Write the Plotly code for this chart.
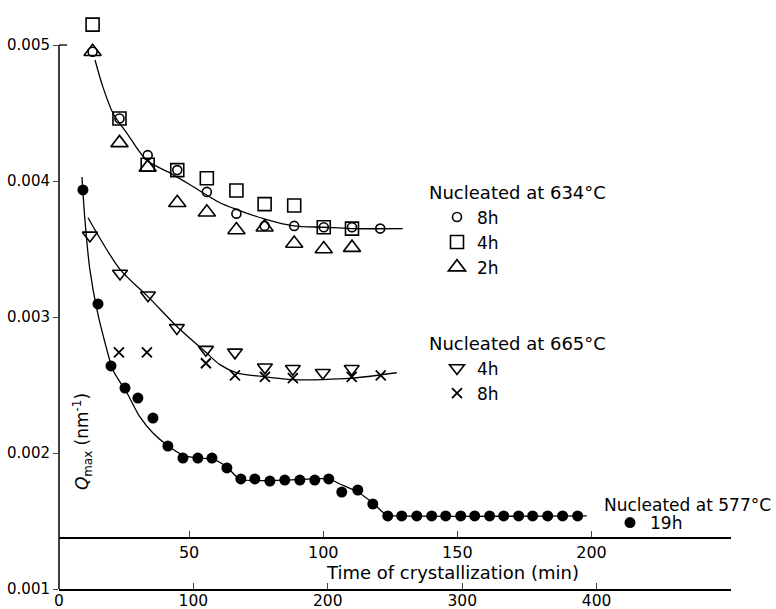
import plotly.graph_objects as go

# ---------------- data (time in min on the lower axis, Qmax in nm^-1) ----------------
t634 = [25, 45, 66, 88, 110, 132, 153, 175, 197, 218, 239]
q634_8h = [0.00495, 0.00446, 0.00419, 0.00408, 0.00392, 0.00376, 0.00367, 0.00367, 0.00366, 0.00366, 0.00365]
t634_4h = [25, 45, 66, 88, 110, 132, 153, 175, 197, 218]
q634_4h = [0.00515, 0.00446, 0.00412, 0.00408, 0.00402, 0.00393, 0.00383, 0.00382, 0.00366, 0.00365]
t634_2h = [25, 45, 66, 88, 110, 132, 153, 175, 197, 218]
q634_2h = [0.00495, 0.00428, 0.00410, 0.00384, 0.00377, 0.00364, 0.00366, 0.00354, 0.00350, 0.00351]

fit634_t = [26.8, 32.7, 40.1, 50.6, 65.4, 82.5, 99.6, 119.7, 132.3, 153.2, 174.7, 197, 217.8, 255.8]
fit634_q = [0.00489, 0.00469, 0.00450, 0.00435, 0.00415, 0.00406, 0.00396, 0.00384, 0.00379, 0.00372, 0.00367, 0.00366, 0.00365, 0.00365]

t665_4h = [23, 45.4, 66.2, 87.7, 109.3, 130.9, 153.2, 174, 196.3, 217.8]
q665_4h = [0.00360, 0.00332, 0.00316, 0.00292, 0.00276, 0.00274, 0.00263, 0.00262, 0.00259, 0.00262]
t665_8h = [44.6, 65.4, 109.3, 130.9, 153.2, 174, 217.8, 239.4]
q665_8h = [0.00274, 0.00274, 0.00266, 0.00257, 0.00256, 0.00255, 0.00256, 0.00257]

fit665_t = [21.6, 45.4, 66.2, 87.7, 109.3, 119.7, 132.3, 153.2, 174, 196.3, 217.8, 251.3]
fit665_q = [0.00373, 0.00335, 0.00315, 0.00293, 0.00274, 0.00265, 0.00259, 0.00256, 0.00254, 0.00254, 0.00255, 0.00259]

t577 = [17.8, 29, 38.7, 49.1, 58.7, 69.9, 81, 92.2, 103.3, 113.8, 124.9, 135.3, 145.7, 156.9,
        168, 179.2, 190.3, 200.7, 210.4, 222.3, 233.5, 244.6, 255, 266.2, 277.3, 287.7, 298.9,
        309.3, 320.4, 330.9, 342, 352.4, 363.6, 374.7, 385.9]
q577 = [0.003934, 0.003096, 0.00264, 0.002478, 0.002404, 0.002257, 0.002051, 0.001963, 0.001963,
        0.001963, 0.00189, 0.001809, 0.001809, 0.001794, 0.001801, 0.001801, 0.001801, 0.001809,
        0.001713, 0.001728, 0.001625, 0.001537, 0.001537, 0.001537, 0.001537, 0.001537, 0.001537,
        0.001537, 0.001537, 0.001537, 0.001537, 0.001537, 0.001537, 0.001537, 0.001537]

fit577_t = [17.1, 19.3, 23, 28.3, 35.7, 40.1, 50.6, 60.2, 69.9, 80.3, 92.2, 103.3, 113.8, 124.9,
            134.6, 168, 200.7, 208.9, 222.3, 233.5, 243.9, 253.5, 392.6]
fit577_q = [0.004029, 0.003713, 0.003346, 0.003051, 0.002757, 0.00261, 0.002441, 0.002265, 0.002147,
            0.002059, 0.001985, 0.001963, 0.001956, 0.001897, 0.001809, 0.001801, 0.001809, 0.001772,
            0.001713, 0.001632, 0.001544, 0.001537, 0.001537]

x_ticks = [0, 100, 200, 300, 400]
x2_ticks = [50, 100, 150, 200]
y_ticks = [0.001, 0.002, 0.003, 0.004, 0.005]
inner_axis_q = 0.001375

FONT = "DejaVu Sans"
YMIN, YMAX = 0.001, 0.00525

fig = go.Figure()

def fit(t, q):
    fig.add_trace(go.Scatter(x=t, y=q, mode="lines", showlegend=False, hoverinfo="skip",
                             line=dict(color="black", width=1.3, shape="spline", smoothing=0.8)))

fit(fit634_t, fit634_q)
fit(fit665_t, fit665_q)
fit(fit577_t, fit577_q)

def pts(t, q, name, symbol, size, legend, lw=1.6, color="black"):
    fig.add_trace(go.Scatter(x=t, y=q, mode="markers", name=name, legend=legend,
                             marker=dict(symbol=symbol, size=size, color=color,
                                         line=dict(color="black", width=lw))))

pts(t634, q634_8h, "8h", "circle-open", 9, "legend")
pts(t634_4h, q634_4h, "4h", "square-open", 13, "legend")
pts(t634_2h, q634_2h, "2h", "triangle-up-open", 15, "legend")
pts(t665_4h, q665_4h, "4h", "triangle-down-open", 13, "legend2")
pts(t665_8h, q665_8h, "8h", "x-thin", 10, "legend2", lw=1.8)
pts(t577, q577, "19h", "circle", 11, "legend3", lw=0)

# plot area: x 59..731 px, y 11..589 px
def py(pix):
    return (589 - pix) / 578.0

def px(pix):
    return (pix - 59) / 672.0

leg_common = dict(font=dict(family=FONT, size=17, color="black"), bgcolor="rgba(0,0,0,0)",
                  xanchor="left", yanchor="top", indentation=10, itemsizing="trace")
title_font = dict(family=FONT, size=18, color="black")

fig.update_layout(
    width=776, height=609,
    margin=dict(l=59, r=45, t=11, b=20, autoexpand=False),
    paper_bgcolor="white", plot_bgcolor="white",
    font=dict(family=FONT, color="black"),
    legend=dict(leg_common, x=px(427), y=py(176),
                title=dict(text="Nucleated at 634°C", font=title_font)),
    legend2=dict(leg_common, x=px(427), y=py(327),
                 title=dict(text="Nucleated at 665°C", font=title_font)),
    legend3=dict(leg_common, x=px(600), y=py(505)),
    xaxis=dict(range=[0, 500], tickvals=x_ticks, ticks="inside", ticklen=6, tickwidth=1.3,
               showline=True, linewidth=1.5, linecolor="black", showgrid=False, zeroline=False,
               tickfont=dict(family=FONT, size=15.5), ticklabelstandoff=-3, automargin=False),
    xaxis2=dict(range=[1.5, 252], overlaying="x", anchor="free", side="bottom",
                position=(inner_axis_q - YMIN) / (YMAX - YMIN),
                tickvals=x2_ticks, ticks="inside", ticklen=6, tickwidth=1.3,
                showline=True, linewidth=1.5, linecolor="black", showgrid=False, zeroline=False,
                tickfont=dict(family=FONT, size=16), automargin=False),
    yaxis=dict(range=[YMIN, YMAX], tickvals=y_ticks, tickformat=".3f", ticks="outside", ticklen=5,
               tickwidth=1.3, showline=False, showgrid=False, zeroline=False,
               tickfont=dict(family=FONT, size=15), automargin=False),
    shapes=[
        dict(type="line", xref="paper", yref="y", x0=0, x1=0, y0=YMIN, y1=0.005,
             line=dict(color="black", width=1.5)),
        dict(type="line", xref="paper", yref="y", x0=0, x1=0.012, y0=0.005, y1=0.005,
             line=dict(color="black", width=1.3)),
    ],
    annotations=[
        dict(text="Time of crystallization (min)", xref="paper", yref="y", x=px(452), y=0.001125,
             xanchor="center", yanchor="middle", showarrow=False, font=dict(family=FONT, size=18)),
        dict(text="<i>Q</i><sub>max</sub> (nm<sup>-1</sup>)", xref="paper", yref="y",
             x=px(82), y=0.00208, xanchor="center", yanchor="middle", textangle=-90,
             showarrow=False, font=dict(family=FONT, size=17)),
        dict(text="Nucleated at 577°C", xref="paper", yref="paper", x=px(602), y=py(505),
             xanchor="left", yanchor="middle", showarrow=False, font=dict(family=FONT, size=17)),
    ],
)

# dummy trace to activate the inner axis
fig.add_trace(go.Scatter(x=[None], y=[None], xaxis="x2", showlegend=False, hoverinfo="skip"))

fig.write_html("out.html")
